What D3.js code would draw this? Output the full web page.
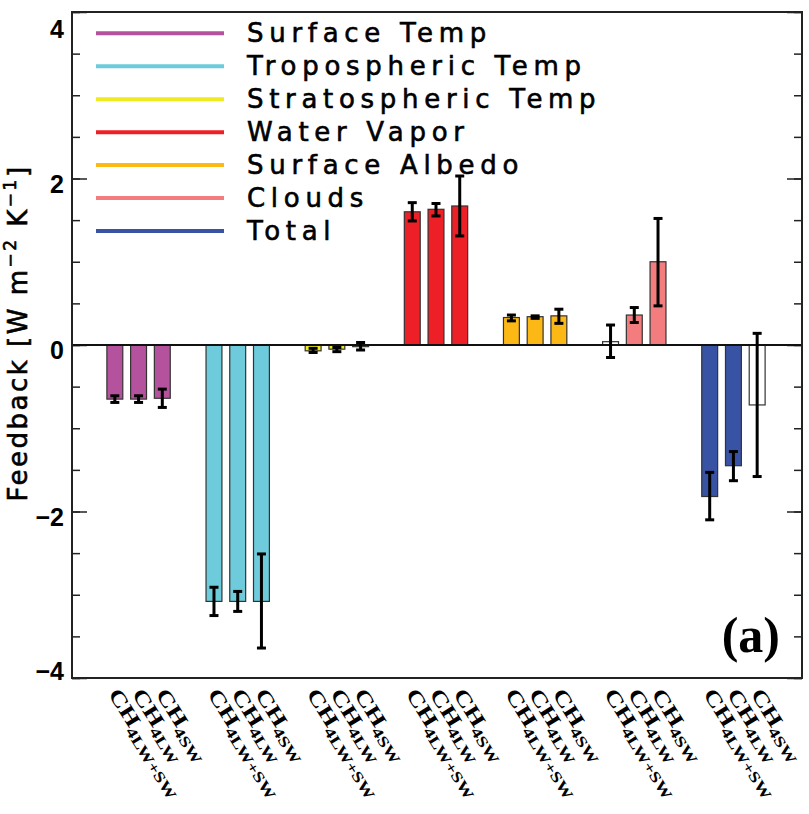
<!DOCTYPE html>
<html>
<head>
<meta charset="utf-8">
<script src="https://cdn.jsdelivr.net/npm/d3@7"></script>
<style>
  body { margin: 0; background: #fff; }
  svg { display: block; }
  .legend text, .ylabel { font-family: "DejaVu Sans", sans-serif; stroke: #000; stroke-width: 0.6px; }
  .ticklab { font-family: "Liberation Sans", Arial, sans-serif; font-weight: bold; font-size: 25px; }
  .xlab { font-family: "Liberation Serif", "Times New Roman", serif; font-weight: bold; }
</style>
</head>
<body>
<div id="chart"></div>
<script>
(function() {
  // feedback categories and their bar colours
  var groups = ["Surface Temp", "Tropospheric Temp", "Stratospheric Temp", "Water Vapor", "Surface Albedo", "Clouds", "Total"];
  var colors = ["#b5529d", "#6dcbdb", "#f0ea1f", "#ee2027", "#fcb815", "#f37d7e", "#3953a4"];
  var experiments = ["4LW+SW", "4LW", "4SW"];

  // bar values (W m-2 K-1), one row per category, one column per experiment
  var values = [
    [-0.65, -0.65, -0.64],
    [-3.08, -3.08, -3.08],
    [-0.07, -0.05, -0.02],
    [1.60, 1.63, 1.67],
    [0.33, 0.34, 0.35],
    [0.04, 0.36, 1.00],
    [-1.82, -1.45, -0.72]
  ];
  var errLow = [
    [-0.69, -0.69, -0.75],
    [-3.25, -3.20, -3.64],
    [-0.09, -0.08, -0.06],
    [1.49, 1.55, 1.31],
    [0.29, 0.32, 0.26],
    [-0.15, 0.27, 0.47],
    [-2.10, -1.63, -1.58]
  ];
  var errHigh = [
    [-0.61, -0.61, -0.53],
    [-2.91, -2.96, -2.51],
    [-0.04, -0.03, 0.03],
    [1.71, 1.70, 2.03],
    [0.36, 0.35, 0.43],
    [0.24, 0.45, 1.52],
    [-1.53, -1.28, 0.14]
  ];
  // open (unfilled) bars
  var filled = [
    [1, 1, 1], [1, 1, 1], [1, 1, 1], [1, 1, 1], [1, 1, 1], [0, 1, 1], [1, 1, 0]
  ];
  var majorTicks = [-4, -2, 0, 2, 4];
  var minorTicks = d3.range(-4, 4.01, 0.5);

  var width = 809, height = 814;
  var plot = { left: 72, right: 802, top: 12, bottom: 678 };

  var svg = d3.select("#chart").append("svg").attr("width", width).attr("height", height);

  var y = d3.scaleLinear().domain([-4, 4]).range([plot.bottom, plot.top]);
  var x = d3.scaleBand().domain(groups).range([89, 783]);
  var xInner = d3.scaleBand().domain(experiments).range([-35.6, 35.6]).paddingInner(0.33).paddingOuter(0.165);

  var data = [];
  groups.forEach(function(g, i) {
    experiments.forEach(function(e, j) {
      data.push({ group: g, exp: e, gi: i, v: values[i][j], lo: errLow[i][j], hi: errHigh[i][j], filled: filled[i][j], color: colors[i] });
    });
  });

  // axes ticks, inward on both sides
  svg.append("g").attr("transform", "translate(" + plot.left + ",0)")
    .call(d3.axisLeft(y).tickValues(minorTicks).tickSize(-8).tickFormat(""));
  svg.append("g").attr("transform", "translate(" + plot.left + ",0)")
    .call(d3.axisLeft(y).tickValues(majorTicks).tickSize(-15).tickFormat(""));
  svg.append("g").attr("transform", "translate(" + plot.right + ",0)")
    .call(d3.axisRight(y).tickValues(minorTicks).tickSize(-8).tickFormat(""));
  svg.append("g").attr("transform", "translate(" + plot.right + ",0)")
    .call(d3.axisRight(y).tickValues(majorTicks).tickSize(-15).tickFormat(""));
  svg.selectAll(".domain").remove();
  svg.selectAll(".tick line").attr("stroke", "#222").attr("stroke-width", 1.5);

  svg.selectAll("text.ticklab").data(majorTicks).enter().append("text")
    .attr("class", "ticklab")
    .attr("x", 64)
    .attr("y", function(d) { return Math.max(38, Math.min(680, y(d) + 14)); })
    .attr("text-anchor", "end")
    .text(function(d) { return d < 0 ? "\u2212" + Math.abs(d) : d; });

  // bars
  svg.selectAll("rect.bar").data(data).enter().append("rect")
    .attr("class", "bar")
    .attr("x", function(d) { return x(d.group) + x.bandwidth() / 2 + xInner(d.exp); })
    .attr("width", xInner.bandwidth())
    .attr("y", function(d) { return y(Math.max(0, d.v)); })
    .attr("height", function(d) { return Math.abs(y(d.v) - y(0)); })
    .attr("fill", function(d) { return d.filled ? d.color : "#fff"; })
    .attr("stroke", "#333")
    .attr("stroke-width", 1.2);

  // zero line
  svg.append("line")
    .attr("x1", plot.left).attr("x2", plot.right)
    .attr("y1", y(0)).attr("y2", y(0))
    .attr("stroke", "#111").attr("stroke-width", 2);

  // error bars
  var cx = function(d) { return x(d.group) + x.bandwidth() / 2 + xInner(d.exp) + xInner.bandwidth() / 2; };
  var eb = svg.selectAll("g.err").data(data).enter().append("g").attr("class", "err")
    .attr("stroke", "#000").attr("stroke-width", 3);
  eb.append("line")
    .attr("x1", cx).attr("x2", cx)
    .attr("y1", function(d) { return y(d.lo); }).attr("y2", function(d) { return y(d.hi); });
  eb.append("line")
    .attr("x1", function(d) { return cx(d) - 4.5; }).attr("x2", function(d) { return cx(d) + 4.5; })
    .attr("y1", function(d) { return y(d.lo); }).attr("y2", function(d) { return y(d.lo); });
  eb.append("line")
    .attr("x1", function(d) { return cx(d) - 4.5; }).attr("x2", function(d) { return cx(d) + 4.5; })
    .attr("y1", function(d) { return y(d.hi); }).attr("y2", function(d) { return y(d.hi); });

  // frame
  svg.append("rect")
    .attr("x", plot.left).attr("y", plot.top)
    .attr("width", plot.right - plot.left).attr("height", plot.bottom - plot.top)
    .attr("fill", "none").attr("stroke", "#222").attr("stroke-width", 2);

  // legend
  var legY = d3.scalePoint().domain(groups).range([33.3, 231]);
  var leg = svg.append("g").attr("class", "legend").selectAll("g").data(groups).enter().append("g")
    .attr("transform", function(d) { return "translate(0," + legY(d) + ")"; });
  leg.append("line").attr("x1", 96).attr("x2", 224).attr("y1", 0).attr("y2", 0)
    .attr("stroke", function(d, i) { return colors[i]; }).attr("stroke-width", 4);
  leg.append("text").attr("x", 247).attr("y", 9)
    .attr("font-size", 26).attr("letter-spacing", 5.7)
    .text(function(d) { return d; });

  // y label
  var yl = svg.append("text").attr("class", "ylabel")
    .attr("transform", "translate(27,333) rotate(-90)")
    .attr("text-anchor", "middle").attr("font-size", 26).attr("letter-spacing", 2.5);
  yl.append("tspan").text("Feedback [W m");
  yl.append("tspan").attr("font-size", 17).attr("dy", -11).text("\u22122");
  yl.append("tspan").attr("dy", 11).text(" K");
  yl.append("tspan").attr("font-size", 17).attr("dy", -11).text("\u22121");
  yl.append("tspan").attr("dy", 11).text("]");

  // x labels, rotated and stretched along the baseline like the original
  var xl = svg.selectAll("text.xlab").data(data).enter().append("text")
    .attr("class", "xlab")
    .attr("transform", function(d) { return "translate(" + (cx(d) - 7) + ",694) rotate(58) scale(1.3,1)"; });
  xl.append("tspan").attr("font-size", 21).text("CH");
  xl.append("tspan").attr("font-size", 15).attr("dy", 5).text(function(d) { return d.exp; });

  // panel label
  svg.append("text")
    .attr("x", 780).attr("y", 652)
    .attr("text-anchor", "end")
    .attr("font-family", "Liberation Serif, Times New Roman, serif")
    .attr("font-weight", "bold").attr("font-size", 50)
    .text("(a)");
})();
</script>
</body>
</html>
